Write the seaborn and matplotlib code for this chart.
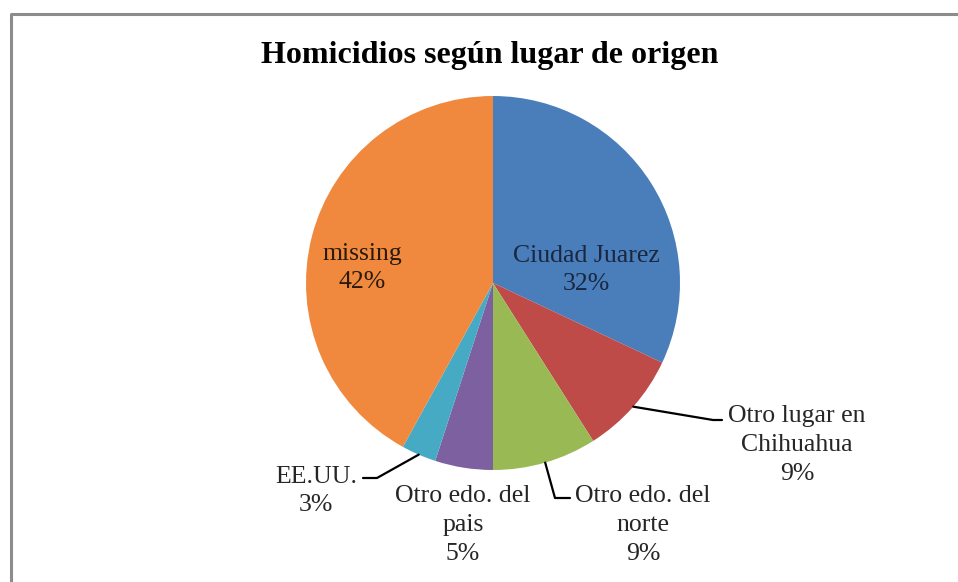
import numpy as np
import matplotlib
matplotlib.use("Agg")
import matplotlib.pyplot as plt
import seaborn as sns

# Pie data (percent shares)
categories = ["Ciudad Juarez", "Otro lugar en\nChihuahua", "Otro edo. del\nnorte",
              "Otro edo. del\npais", "EE.UU.", "missing"]
shares = [32, 9, 9, 5, 3, 42]
colors = ["#4A7EBB", "#BE4B48", "#98B954", "#7D60A0", "#46AAC5", "#F0893E"]
title = "Homicidios según lugar de origen"

sns.set_theme(style="white")
plt.rcParams['font.family'] = ['Liberation Serif', 'DejaVu Serif']

W, H = 958, 582
fig = plt.figure(figsize=(W / 100, H / 100), dpi=100)
ax = fig.add_axes([0, 0, 1, 1])
ax.set_xlim(0, W)
ax.set_ylim(0, H)
ax.set_aspect("equal")
ax.axis("off")

# pixel layout (y measured from top, converted below)
cx, cy, r = 493, 283, 187
def Y(y):
    return H - y

wedges, _ = ax.pie(shares, colors=sns.color_palette(colors), startangle=90,
                   counterclock=False, center=(cx, Y(cy)), radius=r,
                   wedgeprops=dict(linewidth=0))
ax.set_xlim(0, W)
ax.set_ylim(0, H)

# outer frame
ax.plot([11, 11, W + 5], [-5, Y(14), Y(14)], color="#8C8C8C", lw=2.2,
        solid_capstyle="butt", clip_on=False)

ax.text(490, Y(63), title, ha="center", va="baseline", fontsize=23,
        fontweight="bold", color="black")

fs = 18.5
ls = 1.4
lab = [f"{c}\n{s}%" for c, s in zip(categories, shares)]

# inside labels
ax.text(586, Y(270), lab[0], ha="center", va="center", fontsize=fs,
        color="#1A2740", linespacing=ls)
ax.text(362, Y(268), lab[5], ha="center", va="center", fontsize=fs,
        color="#2A1A0A", linespacing=ls)

# outside labels
ax.text(797, Y(445), lab[1], ha="center", va="center", fontsize=fs,
        linespacing=ls)
ax.text(643, Y(525), lab[2], ha="center", va="center", fontsize=fs,
        linespacing=ls)
ax.text(463, Y(525), lab[3], ha="center", va="center", fontsize=fs,
        linespacing=ls)
ax.text(316, Y(491), lab[4], ha="center", va="center", fontsize=fs,
        linespacing=ls)

# leader lines from wedge mid angles
def edge(w):
    a = np.deg2rad((w.theta1 + w.theta2) / 2)
    return cx + r * np.cos(a), Y(cy) + r * np.sin(a)

leaders = {1: [(713, 420), (722, 420)],
           2: [(555, 498), (570, 498)],
           4: [(377, 478), (363, 478)]}
for i, pts in leaders.items():
    x0, y0 = edge(wedges[i])
    xs = [x0] + [p[0] for p in pts]
    ys = [y0] + [Y(p[1]) for p in pts]
    ax.plot(xs, ys, color="black", lw=1.6)

plt.savefig("out.png", dpi=100)
